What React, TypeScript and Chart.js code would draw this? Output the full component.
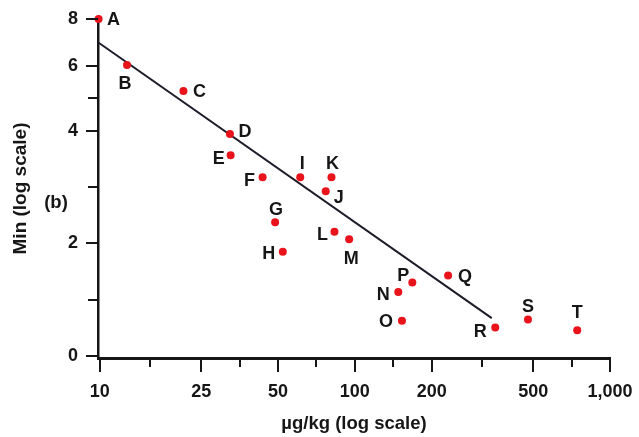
import React, { useEffect, useRef } from "react";
import { Chart, registerables } from "chart.js";

Chart.register(...registerables);

// ---- data ----
const pointLabels = ["A", "B", "C", "D", "E", "F", "G", "H", "I", "J", "K", "L", "M", "N", "O", "P", "Q", "R", "S", "T"];
const doseUgKg = [9.9, 12.8, 21.3, 32.4, 32.6, 43.5, 48.7, 52.2, 61.1, 76.9, 81, 83.2, 95, 148, 153, 168, 232, 355, 477, 744];
const minutesVal = [8, 6.02, 5.13, 3.93, 3.45, 3.01, 2.28, 1.9, 3.01, 2.76, 3.01, 2.15, 2.05, 1.48, 1.24, 1.57, 1.64, 1.19, 1.25, 1.17];

const fitDose = [9.85, 344];
const fitMin = [6.93, 1.26];

const xTickValues = [10, 25, 50, 100, 200, 500, 1000];
const xTickLabels = ["10", "25", "50", "100", "200", "500", "1,000"];
const xMinorTicks = [15.8, 35.4, 70.7, 141, 316, 707];

const yTickValues = [1, 2, 4, 6, 8];
const yTickLabels = ["0", "2", "4", "6", "8"];
const yMinorTicks = [1.41, 2.83, 4.9];

// label offsets (px) of each letter's centre from its point
const labelOffsets: number[][] = [
  [15, 0], [-2, 17], [16, 0], [15, -4], [-12, 2], [-13, 2], [1, -14], [-14, 1], [2, -15], [13, 5],
  [1, -15], [-12, 2], [2, 18], [-15, 1], [-16, 0], [-9, -8], [17, 0], [-15, 3], [0, -14], [0, -19],
];

const FONT = "'Liberation Sans', Arial, Helvetica, sans-serif";
const INK = "#161616";
const RED = "#e8131b";

const zeroPad = (s: any) => {
  s.paddingLeft = 0;
  s.paddingRight = 0;
  s.paddingTop = 0;
  s.paddingBottom = 0;
};

const decorPlugin = {
  id: "decor",
  afterDraw(chart: any) {
    const ctx = chart.ctx;
    const xs = chart.scales.x;
    const ys = chart.scales.y;
    const { left, bottom } = chart.chartArea;
    ctx.save();
    ctx.strokeStyle = INK;
    ctx.lineWidth = 2;
    const seg = (x1: number, y1: number, x2: number, y2: number) => {
      ctx.beginPath();
      ctx.moveTo(x1, y1);
      ctx.lineTo(x2, y2);
      ctx.stroke();
    };
    xTickValues.forEach((v) => {
      const px = Math.round(xs.getPixelForValue(v));
      seg(px, bottom, px, bottom + 14);
    });
    xMinorTicks.forEach((v) => {
      const px = Math.round(xs.getPixelForValue(v));
      seg(px, bottom, px, bottom + 9);
    });
    yTickValues.forEach((v) => {
      const py = Math.round(ys.getPixelForValue(v));
      seg(left - 12, py, left, py);
    });
    yMinorTicks.forEach((v) => {
      const py = Math.round(ys.getPixelForValue(v));
      seg(left - 10, py, left, py);
    });

    // panel tag
    ctx.fillStyle = INK;
    ctx.font = `bold 18.5px ${FONT}`;
    ctx.textAlign = "center";
    ctx.textBaseline = "middle";
    ctx.fillText("(b)", left - 42, 203);

    // point letters
    ctx.font = `bold 18px ${FONT}`;
    ctx.textBaseline = "alphabetic";
    pointLabels.forEach((lab, i) => {
      const px = xs.getPixelForValue(doseUgKg[i]);
      const py = ys.getPixelForValue(minutesVal[i]);
      const [dx, dy] = labelOffsets[i];
      ctx.fillText(lab, px + dx, py + dy + 18 * 0.36);
    });
    ctx.restore();
  },
};

export default function App() {
  const ref = useRef<HTMLCanvasElement | null>(null);

  useEffect(() => {
    if (!ref.current) return;
    const chart = new Chart(ref.current, {
      type: "scatter",
      data: {
        datasets: [
          {
            label: "fit",
            data: fitDose.map((x, i) => ({ x, y: fitMin[i] })),
            showLine: true,
            borderColor: "#1c1c2a",
            borderWidth: 2,
            pointRadius: 0,
            clip: false as any,
            order: 2,
          },
          {
            label: "points",
            data: doseUgKg.map((x, i) => ({ x, y: minutesVal[i] })),
            showLine: false,
            backgroundColor: RED,
            borderWidth: 0,
            pointRadius: 4,
            clip: false as any,
            order: 1,
          },
        ],
      },
      options: {
        animation: false,
        responsive: false,
        devicePixelRatio: 1,
        layout: { padding: { top: 19, right: 29, left: 0, bottom: 0 } },
        plugins: { legend: { display: false }, tooltip: { enabled: false } },
        scales: {
          x: {
            type: "logarithmic",
            min: 9.85,
            max: 1000,
            afterFit: (s: any) => {
              s.height = 79;
              zeroPad(s);
            },
            afterBuildTicks: (s: any) => {
              s.ticks = xTickValues.map((v) => ({ value: v }));
            },
            grid: { display: false, drawTicks: false },
            border: { display: true, color: INK, width: 3 },
            ticks: {
              autoSkip: false,
              maxRotation: 0,
              padding: 23,
              color: INK,
              font: { family: FONT, size: 18, weight: "bold" },
              callback: (v: any) => {
                const i = xTickValues.indexOf(Number(v));
                return i >= 0 ? xTickLabels[i] : "";
              },
            },
            title: {
              display: true,
              text: "µg/kg (log scale)",
              color: INK,
              font: { family: FONT, size: 18.5, weight: "bold" },
              padding: { top: 0, bottom: 2 },
            },
          },
          y: {
            type: "logarithmic",
            min: 0.985,
            max: 8,
            afterFit: (s: any) => {
              s.width = 98;
              zeroPad(s);
            },
            afterBuildTicks: (s: any) => {
              s.ticks = yTickValues.map((v) => ({ value: v }));
            },
            grid: { display: false, drawTicks: false },
            border: { display: true, color: INK, width: 2.5 },
            ticks: {
              autoSkip: false,
              padding: 20,
              color: INK,
              font: { family: FONT, size: 18, weight: "bold" },
              callback: (v: any) => {
                const i = yTickValues.indexOf(Number(v));
                return i >= 0 ? yTickLabels[i] : "";
              },
            },
            title: {
              display: true,
              text: "Min (log scale)",
              color: INK,
              font: { family: FONT, size: 19, weight: "bold" },
              padding: { top: 9, bottom: 0 },
            },
          },
        },
      },
      plugins: [decorPlugin],
    });
    return () => chart.destroy();
  }, []);

  return (
    <div style={{ position: "fixed", left: 0, top: 0, width: 639, height: 437, background: "#fff" }}>
      <canvas ref={ref} width={639} height={437} />
    </div>
  );
}
